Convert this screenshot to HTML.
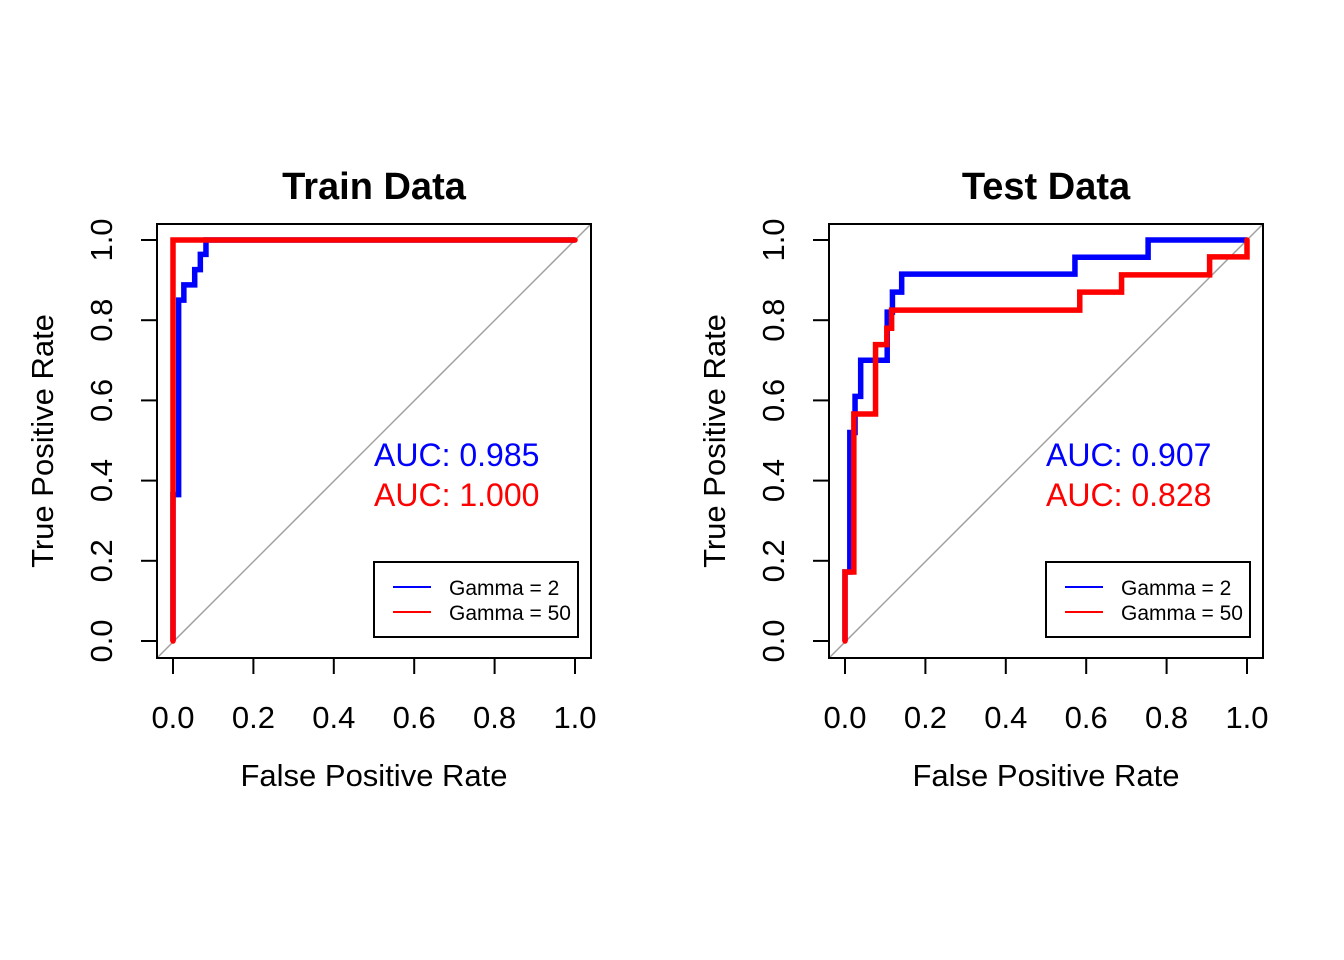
<!DOCTYPE html>
<html><head><meta charset="utf-8"><style>
html,body{margin:0;padding:0;background:#fff;}
svg{display:block;font-family:"Liberation Sans",Arial,sans-serif;}
</style></head><body>
<svg id="chart" width="1344" height="960" viewBox="0 0 1344 960"></svg>
<script>
// ---- data ----
const tickLabels = ["0.0","0.2","0.4","0.6","0.8","1.0"];
const tickValues = [0,0.2,0.4,0.6,0.8,1.0];
const trainBlueFpr = [0,0,0.014,0.014,0.027,0.027,0.054,0.054,0.068,0.068,0.082,0.082,1];
const trainBlueTpr = [0,0.365,0.365,0.85,0.85,0.888,0.888,0.926,0.926,0.964,0.964,1,1];
const trainRedFpr = [0,0,1];
const trainRedTpr = [0,1,1];
const testBlueFpr = [0,0,0.012,0.012,0.025,0.025,0.039,0.039,0.105,0.105,0.118,0.118,0.141,0.141,0.572,0.572,0.754,0.754,1];
const testBlueTpr = [0,0.172,0.172,0.52,0.52,0.61,0.61,0.70,0.70,0.82,0.82,0.87,0.87,0.915,0.915,0.957,0.957,1,1];
const testRedFpr = [0,0,0.022,0.022,0.076,0.076,0.104,0.104,0.116,0.116,0.584,0.584,0.688,0.688,0.907,0.907,1,1];
const testRedTpr = [0,0.172,0.172,0.566,0.566,0.739,0.739,0.78,0.78,0.825,0.825,0.87,0.87,0.913,0.913,0.958,0.958,1];
const aucTrain = ["AUC: 0.985","AUC: 1.000"];
const aucTest = ["AUC: 0.907","AUC: 0.828"];
const legendLabels = ["Gamma = 2","Gamma = 50"];

const svg = document.getElementById('chart');
const NS = 'http://www.w3.org/2000/svg';
function mk(tag, attrs, parent, text){
  const e = document.createElementNS(NS, tag);
  for (const k in attrs) e.setAttribute(k, attrs[k]);
  if (text !== undefined) e.textContent = text;
  (parent||svg).appendChild(e);
  return e;
}
function panel(left, title, prefix, bF, bT, rF, rT, auc){
  const top = 224, w = 434, h = 434;
  const x0 = left + 16, x1 = left + 418, y0 = 641, y1 = 240;
  const sx = v => x0 + v*(x1-x0);
  const sy = v => y0 + v*(y1-y0);
  const g = mk('g', {});
  
  
  const t = mk('text', {x: left + w/2, y: 199, 'text-anchor':'middle', 'font-size':38, 'font-weight':'bold'}, g, title);
  
  
  const d = mk('line', {x1: left, y1: top+h, x2: left+w, y2: top, stroke:'#a0a0a0', 'stroke-width':1.5}, g);
  
  
  const pts = (F,T) => F.map((f,i)=>sx(f)+','+sy(T[i])).join(' ');
  const bl = mk('polyline', {points: pts(bF,bT), fill:'none', stroke:'#0000ff', 'stroke-width':5.5, 'stroke-linejoin':'miter'}, g);
  
  
  const rl = mk('polyline', {points: pts(rF,rT), fill:'none', stroke:'#ff0000', 'stroke-width':5.5, 'stroke-linecap':'round'}, g);
  
  
  const b = mk('rect', {x:left, y:top, width:w, height:h, fill:'none', stroke:'#000', 'stroke-width':2}, g);
  
  
  tickValues.forEach((v,i)=>{
    mk('line', {x1:sx(v), y1:top+h, x2:sx(v), y2:top+h+16, stroke:'#000','stroke-width':2}, g);
    const xl = mk('text', {x:sx(v), y:728, 'text-anchor':'middle','font-size':31}, g, tickLabels[i]);
    
    
    mk('line', {x1:left, y1:sy(v), x2:left-16, y2:sy(v), stroke:'#000','stroke-width':2}, g);
    const yl = mk('text', {x:0, y:0, 'text-anchor':'middle','font-size':31, transform:`translate(${left-45},${sy(v)}) rotate(-90)`}, g, tickLabels[i]);
    
    
  });
  const xt = mk('text', {x:left+w/2, y:786, 'text-anchor':'middle','font-size':31}, g, 'False Positive Rate');
  
  
  const yt = mk('text', {x:0, y:0, 'text-anchor':'middle','font-size':31, transform:`translate(${left-104},441) rotate(-90)`}, g, 'True Positive Rate');
  
  
  const a1 = mk('text', {x:left+217, y:466, 'font-size':32, fill:'#0000ff'}, g, auc[0]);
  
  
  const a2 = mk('text', {x:left+217, y:506, 'font-size':32, fill:'#ff0000'}, g, auc[1]);
  
  
  const lg = mk('g', {}, g);
  
  
  mk('rect', {x:left+217, y:562, width:204, height:75, fill:'#fff', stroke:'#000','stroke-width':2}, lg);
  const cols = ['#0000ff','#ff0000'];
  legendLabels.forEach((l,i)=>{
    const yy = 587 + i*25;
    mk('line', {x1:left+236, y1:yy, x2:left+274, y2:yy, stroke:cols[i], 'stroke-width':2}, lg);
    const lt = mk('text', {x:left+292, y:yy+8, 'font-size':21}, lg, l);
    
    
  });
}
panel(157, 'Train Data', 'train', trainBlueFpr, trainBlueTpr, trainRedFpr, trainRedTpr, aucTrain);
panel(829, 'Test Data', 'test', testBlueFpr, testBlueTpr, testRedFpr, testRedTpr, aucTest);
</script>
</body></html>
